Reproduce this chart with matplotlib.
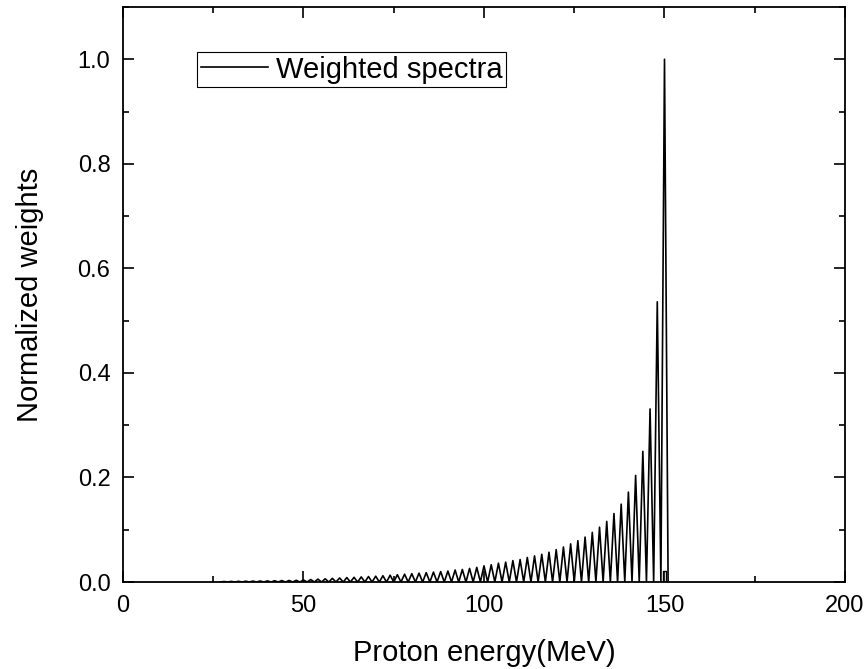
import numpy as np
import matplotlib
matplotlib.use("Agg")
import matplotlib.pyplot as plt
from matplotlib.ticker import MultipleLocator

plt.rcParams['font.family'] = ['Liberation Sans', 'DejaVu Sans']

# peak energies (MeV) and their normalized weights
peak_energy = list(range(28, 152, 2))
peak_weight = [0.001, 0.0012, 0.0014, 0.0016, 0.0018, 0.002, 0.0022, 0.0025,
               0.0028, 0.003, 0.0033, 0.004, 0.0048, 0.0055, 0.0062, 0.007,
               0.0078, 0.0085, 0.009, 0.0098, 0.0105, 0.0112, 0.012, 0.013,
               0.014, 0.015, 0.016, 0.017, 0.018, 0.019, 0.020, 0.021,
               0.023, 0.024, 0.026, 0.028, 0.031, 0.033, 0.036, 0.038,
               0.041, 0.043, 0.047, 0.050, 0.053, 0.057, 0.062, 0.067,
               0.073, 0.079, 0.086, 0.095, 0.105, 0.116, 0.131, 0.149,
               0.172, 0.204, 0.250, 0.331, 0.536, 1.000]

# small step sitting inside the last peak
tail_energy = [151.0, 150.4, 150.4, 149.7, 149.7]
tail_weight = [0.0, 0.0, 0.021, 0.021, 0.0]

# weights drop to zero between peaks
energy = [peak_energy[0] - 1]
weight = [0.0]
for e, w in zip(peak_energy, peak_weight):
    energy += [e, e + 1]
    weight += [w, 0.0]

fig = plt.figure(figsize=(8.68, 6.69), dpi=100)
ax = fig.add_axes([0.1417, 0.130, 0.8318, 0.8595])

ax.plot(energy, weight, color='black', lw=1.2, label='Weighted spectra')
ax.plot(tail_energy, tail_weight, color='black', lw=1.0)

ax.set_xlim(0, 200)
ax.set_ylim(0, 1.1)
ax.xaxis.set_major_locator(MultipleLocator(50))
ax.xaxis.set_minor_locator(MultipleLocator(25))
ax.yaxis.set_major_locator(MultipleLocator(0.2))
ax.yaxis.set_minor_locator(MultipleLocator(0.1))
ax.yaxis.set_major_formatter(matplotlib.ticker.FormatStrFormatter('%.1f'))

ax.tick_params(which='both', direction='in', top=True, right=True,
               labelsize=17, width=1.2)
ax.tick_params(which='major', length=8, pad=9)
ax.tick_params(which='minor', length=4)
for s in ax.spines.values():
    s.set_linewidth(1.3)

ax.set_xlabel('Proton energy(MeV)', fontsize=21, labelpad=16)
ax.set_ylabel('Normalized weights', fontsize=21, labelpad=24)

leg = ax.legend(loc='upper left', bbox_to_anchor=(0.1025, 0.9217),
                borderaxespad=0, fontsize=21, frameon=True, fancybox=False,
                edgecolor='black', framealpha=1, handlelength=2.3,
                handletextpad=0.3, borderpad=0.12)
leg.get_frame().set_linewidth(0.8)

fig.savefig('out.png', dpi=100)
